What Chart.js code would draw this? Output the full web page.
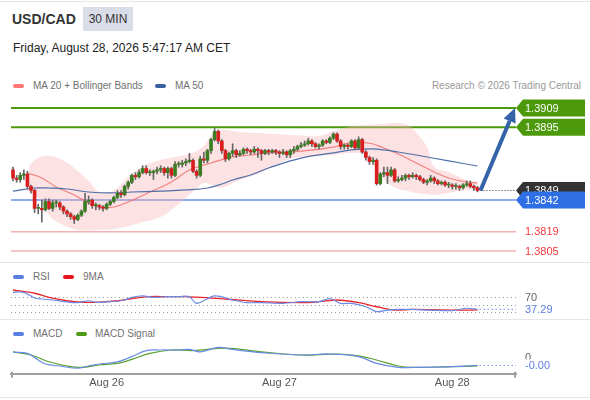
<!DOCTYPE html>
<html>
<head>
<meta charset="utf-8">
<title>USD/CAD 30 MIN</title>
<script src="https://cdn.jsdelivr.net/npm/chart.js@4.4.1/dist/chart.umd.min.js"></script>
<style>
  body { margin: 0; background: #fff; font-family: "Liberation Sans", Arial, sans-serif; }
  #wrap { position: relative; width: 590px; height: 400px; overflow: hidden; }
  .abs { position: absolute; white-space: nowrap; }
  canvas { position: absolute; left: 0; }
  .sw { position: absolute; width: 11px; height: 4px; border-radius: 2px; }
  .lg { position: absolute; white-space: nowrap; font-size: 10px; line-height: 12px; color: #707070; }
  .sep { position: absolute; left: 0; width: 590px; height: 1px; background: #e6e6e6; }
</style>
</head>
<body>
<div id="wrap">
  <div class="sep" style="top:1px"></div>
  <div class="sep" style="top:397px"></div>
  <div class="abs" style="left:12px;top:11px;font-size:14px;line-height:16px;font-weight:bold;color:#333">USD/CAD</div>
  <div class="abs" style="left:83px;top:7px;width:50px;height:24px;line-height:24px;text-align:center;background:#d9dde8;font-size:12px;color:#333">30 MIN</div>
  <div class="abs" style="left:13px;top:41px;font-size:12px;line-height:14px;color:#222">Friday, August 28, 2026 5:47:17 AM CET</div>

  <div class="sw" style="left:13px;top:84px;background:#f77"></div>
  <div class="lg" style="left:33px;top:80px">MA 20 + Bollinger Bands</div>
  <div class="sw" style="left:155px;top:84px;background:#3a5f9e"></div>
  <div class="lg" style="left:175px;top:80px">MA 50</div>
  <div class="lg" style="right:9px;top:80px;color:#999">Research © 2026 Trading Central</div>

  <canvas id="main" width="590" height="167" style="top:95px"></canvas>

  <div class="sep" style="top:262px"></div>
  <div class="sw" style="left:13px;top:275px;background:#5b7fe0"></div>
  <div class="lg" style="left:33px;top:271px">RSI</div>
  <div class="sw" style="left:63px;top:275px;background:#e8141c"></div>
  <div class="lg" style="left:83px;top:271px">9MA</div>
  <canvas id="rsi" width="590" height="34" style="top:284px"></canvas>

  <div class="sep" style="top:319px"></div>
  <div class="sw" style="left:13px;top:332px;background:#5b7fe0"></div>
  <div class="lg" style="left:33px;top:328px">MACD</div>
  <div class="sw" style="left:76px;top:332px;background:#4a9a14"></div>
  <div class="lg" style="left:95px;top:328px">MACD Signal</div>
  <canvas id="macd" width="590" height="53" style="top:340px"></canvas>
</div>
<script>
// x axis ticks (candle index where each day starts)
const tickIdx = [26, 74, 122];
const tickLabels = ['Aug 26', 'Aug 27', 'Aug 28'];

// 30 min candles
const opens = [1.3864,1.3858,1.3857,1.3860,1.3861,1.3852,1.3849,1.3836,1.3836,1.3835,
  1.3841,1.3836,1.3840,1.3840,1.3837,1.3834,1.3832,1.3830,1.3828,1.3831,
  1.3834,1.3841,1.3842,1.3838,1.3838,1.3837,1.3836,1.3839,1.3841,1.3844,
  1.3847,1.3846,1.3852,1.3855,1.3860,1.3859,1.3862,1.3865,1.3862,1.3862,
  1.3863,1.3864,1.3865,1.3862,1.3865,1.3860,1.3868,1.3868,1.3869,1.3870,
  1.3871,1.3863,1.3860,1.3872,1.3871,1.3878,1.3886,1.3892,1.3885,1.3878,
  1.3872,1.3876,1.3878,1.3875,1.3876,1.3879,1.3878,1.3877,1.3879,1.3878,
  1.3876,1.3878,1.3877,1.3878,1.3877,1.3876,1.3877,1.3875,1.3878,1.3879,
  1.3881,1.3882,1.3883,1.3885,1.3883,1.3881,1.3882,1.3885,1.3884,1.3887,
  1.3890,1.3885,1.3881,1.3882,1.3881,1.3885,1.3880,1.3886,1.3877,1.3873,
  1.3870,1.3871,1.3854,1.3861,1.3862,1.3860,1.3864,1.3856,1.3857,1.3858,
  1.3860,1.3859,1.3860,1.3859,1.3857,1.3855,1.3856,1.3858,1.3856,1.3854,
  1.3855,1.3853,1.3853,1.3852,1.3852,1.3851,1.3853,1.3854,1.3852,1.3851];
const highs = [1.3866,1.3860,1.3862,1.3864,1.3863,1.3853,1.3850,1.3839,1.3842,1.3843,
  1.3843,1.3842,1.3842,1.3841,1.3838,1.3835,1.3833,1.3831,1.3832,1.3835,
  1.3847,1.3845,1.3843,1.3840,1.3839,1.3838,1.3840,1.3842,1.3845,1.3849,
  1.3849,1.3853,1.3856,1.3861,1.3862,1.3864,1.3867,1.3867,1.3864,1.3864,
  1.3866,1.3867,1.3866,1.3866,1.3866,1.3870,1.3870,1.3871,1.3872,1.3876,
  1.3872,1.3864,1.3874,1.3877,1.3879,1.3887,1.3894,1.3893,1.3886,1.3879,
  1.3877,1.3883,1.3879,1.3878,1.3880,1.3880,1.3879,1.3881,1.3880,1.3879,
  1.3879,1.3879,1.3879,1.3879,1.3878,1.3879,1.3878,1.3879,1.3881,1.3882,
  1.3884,1.3885,1.3887,1.3886,1.3884,1.3883,1.3886,1.3886,1.3888,1.3891,
  1.3891,1.3886,1.3883,1.3883,1.3886,1.3886,1.3888,1.3887,1.3878,1.3874,
  1.3873,1.3872,1.3862,1.3866,1.3866,1.3866,1.3865,1.3859,1.3860,1.3861,
  1.3861,1.3862,1.3861,1.3860,1.3858,1.3857,1.3860,1.3859,1.3857,1.3856,
  1.3856,1.3855,1.3854,1.3854,1.3853,1.3854,1.3856,1.3856,1.3853,1.3852];
const lows = [1.3856,1.3855,1.3855,1.3857,1.3850,1.3847,1.3833,1.3832,1.3826,1.3834,
  1.3835,1.3834,1.3837,1.3835,1.3832,1.3830,1.3828,1.3825,1.3827,1.3830,
  1.3833,1.3839,1.3836,1.3835,1.3835,1.3834,1.3835,1.3838,1.3840,1.3843,
  1.3844,1.3845,1.3850,1.3854,1.3857,1.3858,1.3861,1.3861,1.3860,1.3857,
  1.3861,1.3862,1.3860,1.3858,1.3858,1.3859,1.3866,1.3866,1.3867,1.3869,
  1.3862,1.3858,1.3859,1.3869,1.3869,1.3876,1.3885,1.3883,1.3876,1.3870,
  1.3871,1.3874,1.3873,1.3874,1.3875,1.3876,1.3875,1.3876,1.3873,1.3871,
  1.3875,1.3875,1.3876,1.3875,1.3873,1.3875,1.3873,1.3873,1.3876,1.3878,
  1.3880,1.3881,1.3882,1.3881,1.3880,1.3879,1.3881,1.3883,1.3883,1.3886,
  1.3884,1.3879,1.3879,1.3879,1.3880,1.3879,1.3879,1.3876,1.3871,1.3868,
  1.3868,1.3853,1.3853,1.3859,1.3854,1.3859,1.3855,1.3855,1.3856,1.3856,
  1.3857,1.3858,1.3857,1.3856,1.3854,1.3853,1.3855,1.3854,1.3853,1.3853,
  1.3852,1.3851,1.3850,1.3850,1.3849,1.3850,1.3852,1.3851,1.3849,1.3848];
const closes = [1.3858,1.3857,1.3860,1.3861,1.3852,1.3849,1.3836,1.3836,1.3835,1.3841,
  1.3836,1.3840,1.3840,1.3837,1.3834,1.3832,1.3830,1.3828,1.3831,1.3834,
  1.3841,1.3842,1.3838,1.3838,1.3837,1.3836,1.3839,1.3841,1.3844,1.3847,
  1.3846,1.3852,1.3855,1.3860,1.3859,1.3862,1.3865,1.3862,1.3862,1.3863,
  1.3864,1.3865,1.3862,1.3865,1.3860,1.3868,1.3868,1.3869,1.3870,1.3871,
  1.3863,1.3860,1.3872,1.3871,1.3878,1.3886,1.3892,1.3885,1.3878,1.3872,
  1.3876,1.3878,1.3875,1.3876,1.3879,1.3878,1.3877,1.3879,1.3878,1.3876,
  1.3878,1.3877,1.3878,1.3877,1.3876,1.3877,1.3875,1.3878,1.3879,1.3881,
  1.3882,1.3883,1.3885,1.3883,1.3881,1.3882,1.3885,1.3884,1.3887,1.3890,
  1.3885,1.3881,1.3882,1.3881,1.3885,1.3880,1.3886,1.3877,1.3873,1.3870,
  1.3871,1.3854,1.3861,1.3862,1.3860,1.3864,1.3856,1.3857,1.3858,1.3860,
  1.3859,1.3860,1.3859,1.3857,1.3855,1.3856,1.3858,1.3856,1.3854,1.3855,
  1.3853,1.3853,1.3852,1.3852,1.3851,1.3853,1.3854,1.3852,1.3851,1.3849];

// moving averages, read at sample candles
const ma20Idx = [4, 8, 12, 17, 21, 24, 28, 32, 38, 44, 49, 55, 61, 66, 71, 80, 89, 95, 100, 103, 107, 112, 117, 121, 126, 129];
const ma20 = [1.38617,1.38581,1.38516,1.38457,1.38399,1.38370,1.38370,1.38406,1.38479,1.38552,1.38639,1.38690,1.38734,1.38748,1.38763,1.38777,1.38806,1.38843,1.38828,1.38799,1.38755,1.38690,1.38625,1.38581,1.38552,1.38545];
const ma50Idx = [0, 6, 10, 15, 21, 27, 33, 41, 48, 54, 58, 61, 66, 71, 80, 89, 94, 100, 103, 107, 112, 121, 129];
const ma50 = [1.38486,1.38508,1.38508,1.38501,1.38479,1.38472,1.38479,1.38486,1.38494,1.38508,1.38537,1.38566,1.38603,1.38654,1.38726,1.38763,1.38785,1.38792,1.38785,1.38770,1.38748,1.38705,1.38668];

// bollinger bands
const bandIdx = [4.5, 7.5, 10.5, 14.5, 18, 21, 24, 28, 32, 36, 41, 45, 50, 53, 55.5, 58, 63, 68, 76, 80, 85, 89, 94, 98, 103, 107, 110, 112, 115, 117, 121, 126, 129];
const bandUpper = [1.38676,1.38734,1.38740,1.38700,1.38630,1.38560,1.38480,1.38490,1.38590,1.38665,1.38712,1.38734,1.38765,1.38815,1.38905,1.38930,1.38915,1.38908,1.38895,1.38890,1.38886,1.38920,1.38955,1.38966,1.38974,1.38981,1.38960,1.38910,1.38806,1.38660,1.38625,1.38566,1.38552];
const bandLower = [1.38494,1.38421,1.38297,1.38232,1.38203,1.38200,1.38203,1.38210,1.38230,1.38260,1.38297,1.38370,1.38480,1.38545,1.38530,1.38510,1.38566,1.38610,1.38712,1.38734,1.38742,1.38748,1.38763,1.38745,1.38570,1.38500,1.38485,1.38472,1.38462,1.38457,1.38472,1.38494,1.38494];

// key levels
const resistance = [1.3909, 1.3895];
const support = [1.3842];
const targets = [1.3819, 1.3805];

// RSI panel
const rsiIdx = [0, 3, 6, 8, 11, 15, 18, 21, 23, 27, 31, 33, 36, 39, 43, 46, 49, 51, 56, 61, 65, 69, 75, 80, 85, 88, 91, 94, 98, 101, 104, 107, 111, 116, 122, 126, 129];
const rsi = [82.5,82.5,67.3,64.7,62,57,55,60,56,57.5,62,69,73,69,71,71,71,53,73,62,55,55,53,57.5,57.5,66,53,53,44,31,35,37,37,35,33.5,40,37.29];
const rsiMaIdx = [0, 6, 10, 15, 19, 24, 29, 33, 38, 43, 48, 59, 69, 80, 85, 90, 96, 101, 106, 111, 122, 129];
const rsiMa = [88.7,80,69,60,56,56.5,60,66,71,71,71,64.7,57.5,55,57.5,62,55,44,35,37,35,35.5];
const rsiLevels = [70, 50, 30];

// MACD panel
const macdIdx = [0, 4, 7, 9, 13, 18, 21, 24, 29, 33, 37, 41, 46, 49, 52, 57, 61, 69, 80, 88, 96, 101, 107, 111, 122, 129];
const macd = [0.00012,0.00009,-0.000075,-0.000175,-0.000225,-0.00028,-0.000225,-0.000175,-0.00012,0.00001,0.00016,0.000175,0.000175,0.00019,0.00013,0.00024,0.00019,0.00011,0.00005,0.000075,0.00001,-0.00016,-0.00026,-0.00026,-0.00024,-0.00021];
const signalIdx = [0, 5, 10, 15, 19, 24, 29, 33, 38, 44, 50, 59, 69, 80, 90, 96, 101, 107, 111, 122, 129];
const signal = [0.00013,0.00005,-0.00012,-0.000225,-0.00026,-0.0002,-0.00016,-0.00006,0.00009,0.000175,0.00016,0.00022,0.00013,0.00005,0.000075,0.00003,-0.000075,-0.000225,-0.00026,-0.00024,-0.000225];

Chart.defaults.font.family = '"Liberation Sans", Arial, sans-serif';

const xMin = -0.56, xMax = 139.7;
const pad = { left: 11, right: 74, top: 0, bottom: 0 };
const BLUE = '#6a8be6';

function pts(idx, vals) {
  return idx.map((x, i) => ({ x: x, y: vals[i] }));
}

function baseOptions(yMin, yMax) {
  return {
    responsive: false,
    animation: false,
    events: [],
    layout: { padding: pad },
    plugins: { legend: { display: false }, tooltip: { enabled: false } },
    scales: {
      x: { type: 'linear', min: xMin, max: xMax, offset: false, display: false },
      y: { min: yMin, max: yMax, display: false }
    }
  };
}

function hline(ctx, x0, x1, y, color, width, dash) {
  ctx.save();
  ctx.strokeStyle = color;
  ctx.lineWidth = width;
  ctx.setLineDash(dash || []);
  ctx.beginPath();
  ctx.moveTo(x0, y);
  ctx.lineTo(x1, y);
  ctx.stroke();
  ctx.restore();
}

function tag(ctx, tip, y, text, color) {
  ctx.save();
  ctx.fillStyle = color;
  ctx.beginPath();
  ctx.moveTo(tip, y);
  ctx.lineTo(tip + 7, y - 8.5);
  ctx.lineTo(585, y - 8.5);
  ctx.lineTo(585, y + 8.5);
  ctx.lineTo(tip + 7, y + 8.5);
  ctx.closePath();
  ctx.fill();
  ctx.fillStyle = '#fff';
  ctx.font = '11px "Liberation Sans", Arial, sans-serif';
  ctx.textBaseline = 'middle';
  ctx.fillText(text, 525, y + 0.5);
  ctx.restore();
}

function sideText(ctx, y, text, color) {
  ctx.save();
  ctx.fillStyle = color;
  ctx.font = '11px "Liberation Sans", Arial, sans-serif';
  ctx.textBaseline = 'middle';
  ctx.fillText(text, 525, y + 0.5);
  ctx.restore();
}

const mainOverlay = {
  id: 'mainOverlay',
  beforeDatasetsDraw(chart) {
    const { ctx, chartArea: a, scales: { y } } = chart;
    resistance.forEach(v => hline(ctx, a.left, a.right, y.getPixelForValue(v), '#4c9a0c', 2));
    support.forEach(v => hline(ctx, a.left, a.right, y.getPixelForValue(v), '#8eaaf0', 2));
    targets.forEach(v => hline(ctx, a.left, a.right, y.getPixelForValue(v), '#f6b0b0', 1.5));
  },
  afterDraw(chart) {
    const { ctx, chartArea: a, scales: { x, y } } = chart;
    const last = closes.length - 1;
    const x0 = x.getPixelForValue(last) + 3;
    const y0 = y.getPixelForValue(closes[last]);
    hline(ctx, x0, a.right, y0, '#333', 1, [1, 2]);

    // projection arrow to the first resistance
    const x1 = a.right - 1, y1 = y.getPixelForValue(resistance[0]);
    const ang = Math.atan2(y1 - y0, x1 - x0);
    const head = 14, hw = 6.5;
    const bx = x1 - head * Math.cos(ang), by = y1 - head * Math.sin(ang);
    ctx.save();
    ctx.strokeStyle = '#3563a9';
    ctx.fillStyle = '#3563a9';
    ctx.lineWidth = 4;
    ctx.beginPath();
    ctx.moveTo(x0, y0);
    ctx.lineTo(bx, by);
    ctx.stroke();
    ctx.beginPath();
    ctx.moveTo(x1, y1);
    ctx.lineTo(bx + hw * Math.sin(ang), by - hw * Math.cos(ang));
    ctx.lineTo(bx - hw * Math.sin(ang), by + hw * Math.cos(ang));
    ctx.closePath();
    ctx.fill();
    ctx.restore();

    resistance.forEach(v => tag(ctx, a.right, y.getPixelForValue(v), v.toFixed(4), '#4c9a0c'));
    tag(ctx, a.right, y0, closes[last].toFixed(4), '#333');
    support.forEach(v => tag(ctx, a.right, y.getPixelForValue(v), v.toFixed(4), '#2f6fe6'));
    targets.forEach(v => sideText(ctx, y.getPixelForValue(v), v.toFixed(4), '#f23a3a'));
  }
};

const candleIdx = closes.map((c, i) => i);
const wickData = candleIdx.map(i => ({ x: i, y: [lows[i], highs[i]] }));
const bodyData = candleIdx.map(i => ({ x: i, y: [opens[i], closes[i]] }));
const bodyColors = candleIdx.map(i => closes[i] >= opens[i] ? '#3b7d23' : '#d81e1e');

new Chart(document.getElementById('main'), {
  type: 'line',
  data: {
    datasets: [
      { data: pts(bandIdx, bandUpper), borderWidth: 0, pointRadius: 0, tension: 0.4, fill: false, order: 10 },
      { data: pts(bandIdx, bandLower), borderWidth: 0, pointRadius: 0, tension: 0.4, fill: '-1',
        backgroundColor: 'rgba(248,180,180,0.38)', order: 10 },
      { data: pts(ma50Idx, ma50), borderColor: '#4f6fa8', borderWidth: 1.2, pointRadius: 0, tension: 0.4, order: 5 },
      { data: pts(ma20Idx, ma20), borderColor: 'rgba(240,105,105,0.8)', borderWidth: 1.2, pointRadius: 0, tension: 0.4, order: 5 },
      { type: 'bar', data: wickData, backgroundColor: '#666', barThickness: 1, grouped: false, order: 2 },
      { type: 'bar', data: bodyData, backgroundColor: bodyColors, barThickness: 3, grouped: false, minBarLength: 1, order: 1 }
    ]
  },
  options: baseOptions(1.3797, 1.391845),
  plugins: [mainOverlay]
});

const rsiOverlay = {
  id: 'rsiOverlay',
  beforeDatasetsDraw(chart) {
    const { ctx, chartArea: a, scales: { y } } = chart;
    rsiLevels.forEach(v => hline(ctx, a.left, a.right, Math.round(y.getPixelForValue(v)) + 0.5, '#9a9a9a', 1, [1, 3]));
  },
  afterDraw(chart) {
    const { ctx, chartArea: a, scales: { x, y } } = chart;
    const lastV = rsi[rsi.length - 1];
    const yl = y.getPixelForValue(lastV);
    hline(ctx, x.getPixelForValue(rsiIdx[rsiIdx.length - 1]) + 2, a.right, yl, BLUE, 1, [1.5, 2.5]);
    sideText(ctx, y.getPixelForValue(rsiLevels[0]), String(rsiLevels[0]), '#666');
    sideText(ctx, yl, lastV.toFixed(2), '#5b7fe0');
  }
};

new Chart(document.getElementById('rsi'), {
  type: 'line',
  data: {
    datasets: [
      { data: pts(rsiMaIdx, rsiMa), borderColor: '#e8262a', borderWidth: 1.3, pointRadius: 0, tension: 0.3, order: 2 },
      { data: pts(rsiIdx, rsi), borderColor: BLUE, borderWidth: 1.2, pointRadius: 0, tension: 0.3, order: 1 }
    ]
  },
  options: baseOptions(14, 104.7),
  plugins: [rsiOverlay]
});

const macdOverlay = {
  id: 'macdOverlay',
  afterDraw(chart) {
    const { ctx, chartArea: a, scales: { x, y } } = chart;
    const lastV = macd[macd.length - 1];
    const yl = y.getPixelForValue(lastV);
    hline(ctx, x.getPixelForValue(macdIdx[macdIdx.length - 1]) + 2, a.right, yl, BLUE, 1, [1.5, 2.5]);
    sideText(ctx, y.getPixelForValue(0), '0', '#666');
    ctx.save();
    ctx.fillStyle = '#fff';
    ctx.fillRect(522, yl - 6, 40, 12.5);
    ctx.restore();
    sideText(ctx, yl, lastV.toFixed(2), '#5b7fe0');

    // end caps of the time axis
    ctx.save();
    ctx.strokeStyle = '#a0a0a0';
    ctx.lineWidth = 2;
    [a.left + 1, a.right - 1].forEach(px => {
      ctx.beginPath();
      ctx.moveTo(px, a.bottom - 2);
      ctx.lineTo(px, a.bottom + 4);
      ctx.stroke();
    });
    ctx.restore();
  }
};

const macdOpts = baseOptions(-0.00042, 0.000425);
macdOpts.scales.x = {
  type: 'linear', min: xMin, max: xMax, offset: false, display: true,
  grid: { display: false, drawTicks: false },
  border: { display: true, color: '#a0a0a0', width: 2 },
  afterBuildTicks(scale) { scale.ticks = tickIdx.map(v => ({ value: v })); },
  ticks: {
    autoSkip: false, maxRotation: 0, padding: 3, color: '#555',
    font: { size: 11 },
    callback(value) { const k = tickIdx.indexOf(value); return k >= 0 ? tickLabels[k] : ''; }
  }
};

new Chart(document.getElementById('macd'), {
  type: 'line',
  data: {
    datasets: [
      { data: pts(signalIdx, signal), borderColor: '#5ba030', borderWidth: 1.2, pointRadius: 0, tension: 0.4, order: 2 },
      { data: pts(macdIdx, macd), borderColor: BLUE, borderWidth: 1.2, pointRadius: 0, tension: 0.4, order: 1 }
    ]
  },
  options: macdOpts,
  plugins: [macdOverlay]
});
</script>
</body>
</html>
